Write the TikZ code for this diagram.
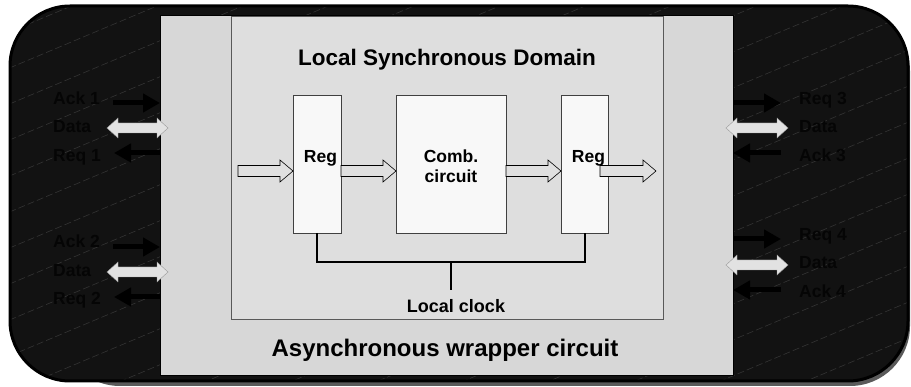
\documentclass[tikz,border=0pt]{standalone}
\usepackage{fontspec}
\setmainfont{Liberation Sans}
\usetikzlibrary{arrows.meta,calc}

\definecolor{panel}{HTML}{121212}
\definecolor{hatchgray}{HTML}{343434}
\definecolor{shadowgray}{HTML}{5A5A5A}
\definecolor{wrapgray}{HTML}{D7D7D7}
\definecolor{domaingray}{HTML}{DEDEDE}
\definecolor{regfill}{HTML}{F8F8F8}
\definecolor{busfill}{HTML}{E2E2E2}
\definecolor{flowfill}{HTML}{E0E0E0}
\definecolor{sigtext}{HTML}{050505}

\tikzset{
  hatch/.style={draw=hatchgray, line width=0.6pt, dash pattern=on 7pt off 3pt},
  wrapbox/.style={draw=black, line width=1pt, fill=wrapgray, inner sep=0pt, outer sep=0pt},
  domainbox/.style={draw=black!65, line width=0.8pt, fill=domaingray, inner sep=0pt, outer sep=0pt},
  regbox/.style={draw=black!75, line width=0.7pt, fill=regfill, inner sep=0pt, outer sep=0pt},
  boxtext/.style={font=\bfseries\fontsize{17.5}{20}\selectfont, inner sep=0pt, align=center},
  sig/.style={font=\bfseries\fontsize{17.5}{20}\selectfont, text=sigtext, inner sep=0pt},
  sigarrow/.style={line width=5pt, draw=black, -{Triangle[length=17pt,width=18pt]}},
  busarrow/.style={fill=busfill, draw=black!40, line width=0.4pt},
  flowarrow/.style={fill=flowfill, draw=black, line width=0.6pt},
  clk/.style={draw=black, line width=2pt},
}

% hollow block arrow from #1 (tail) to #2 (tip), both at the same height
\newcommand\flowarrow[2]{%
  \draw[flowarrow] let \p1=(#1), \p2=(#2) in
    (\x1,\y1+5.5pt) -- (\x2-13pt,\y1+5.5pt) -- (\x2-13pt,\y1+11pt) -- (\x2,\y1)
    -- (\x2-13pt,\y1-11pt) -- (\x2-13pt,\y1-5.5pt) -- (\x1,\y1-5.5pt) -- cycle;}

% two-headed data bus arrow between tips #1 (left) and #2 (right)
\newcommand\busarrow[2]{%
  \draw[busarrow] let \p1=(#1), \p2=(#2) in
    (\x1,\y1) -- (\x1+11pt,\y1+10pt) -- (\x1+11pt,\y1+5pt) -- (\x2-11pt,\y1+5pt)
    -- (\x2-11pt,\y1+10pt) -- (\x2,\y1) -- (\x2-11pt,\y1-10pt) -- (\x2-11pt,\y1-5pt)
    -- (\x1+11pt,\y1-5pt) -- (\x1+11pt,\y1-10pt) -- cycle;}

\begin{document}
\begin{tikzpicture}[x=1pt,y=-1pt]
\useasboundingbox (0,0) rectangle (911,387);

% dark rounded panel with its drop shadow and faint hatching
\fill[shadowgray, rounded corners=60pt] (60,11) rectangle (910,386);
\fill[panel, rounded corners=60pt] (10,6) rectangle (908,381);
\begin{scope}
  \clip[rounded corners=60pt] (10,6) rectangle (908,381);
  \foreach \k in {0,...,22}
    \draw[hatch] (0,{\k*36}) -- (911,{\k*36-383});
\end{scope}
\draw[black, line width=3pt, rounded corners=60pt] (10,6) rectangle (908,381);

% wrapper and synchronous domain
\node[wrapbox, anchor=north west, minimum width=573pt, minimum height=360pt] (wrap) at (160,16) {};
\node[domainbox, anchor=north west, minimum width=432pt, minimum height=303pt] (dom) at (231,16) {};

\node[font=\bfseries\fontsize{22.5}{26}\selectfont, inner sep=0pt, anchor=base] (domtitle) at (447,66) {Local Synchronous Domain};
\node[font=\bfseries\fontsize{24}{28}\selectfont, inner sep=0pt, anchor=base] (wraptitle) at (445,357) {Asynchronous wrapper circuit};

% registers and combinational logic
\node[regbox, anchor=north west, minimum width=48pt, minimum height=138pt] (reg1) at (293,95) {};
\node[regbox, anchor=north west, minimum width=110pt, minimum height=138pt] (comb) at (396,95) {};
\node[regbox, anchor=north west, minimum width=47pt, minimum height=138pt] (reg2) at (561,95) {};

\node[boxtext, anchor=base] (reg1txt) at (320.5,163) {Reg};
\node[boxtext, anchor=base] (combtxt) at (451,183) {Comb.\\circuit};
\node[boxtext, anchor=base] (reg2txt) at (588.5,163) {Reg};

% data flow through the pipeline
\coordinate (inflow) at (238,171);
\coordinate (outflow) at (656,171);
\flowarrow{inflow}{inflow -| reg1.west}
\flowarrow{$(reg1.east)+(0,7)$}{$(comb.west)+(0,7)$}
\flowarrow{$(comb.east)+(0,7)$}{$(reg2.west)+(0,7)$}
\flowarrow{$(reg2.west)+(39,7)$}{outflow}

% local clock distribution
\node[font=\bfseries\fontsize{18}{21}\selectfont, inner sep=0pt, anchor=base] (lclk) at (456,313) {Local clock};
\coordinate (tap) at (451,262);
\draw[clk] (reg1.south) |- (tap) -| (reg2.south);
\draw[clk, shorten >=10pt] (tap) -- (tap |- lclk.north);

% left handshake ports
\node[sig, anchor=base west] (ack1) at (53,105) {Ack 1};
\node[sig, anchor=base west] (data1) at (53,133) {Data};
\node[sig, anchor=base west] (req1) at (53,162) {Req 1};
\node[sig, anchor=base west] (ack2) at (53,248) {Ack 2};
\node[sig, anchor=base west] (data2) at (53,277) {Data};
\node[sig, anchor=base west] (req2) at (53,305) {Req 2};

\coordinate (ack1t) at (113,103);
\coordinate (req1t) at (114,153);
\coordinate (ack2t) at (113,247);
\coordinate (req2t) at (114,297);
\coordinate (bus1l) at (107,128);
\coordinate (bus1r) at (168,128);
\coordinate (bus2l) at (107,272);
\coordinate (bus2r) at (168,272);

\draw[sigarrow] (ack1t) -- (ack1t -| wrap.west);
\draw[sigarrow] (req1t -| wrap.west) -- (req1t);
\draw[sigarrow] (ack2t) -- (ack2t -| wrap.west);
\draw[sigarrow] (req2t -| wrap.west) -- (req2t);
\busarrow{bus1l}{bus1r}
\busarrow{bus2l}{bus2r}

% right handshake ports
\node[sig, anchor=base west] (req3) at (799,105) {Req 3};
\node[sig, anchor=base west] (data3) at (799,133) {Data};
\node[sig, anchor=base west] (ack3) at (799,162) {Ack 3};
\node[sig, anchor=base west] (req4) at (799,241) {Req 4};
\node[sig, anchor=base west] (data4) at (799,269) {Data};
\node[sig, anchor=base west] (ack4) at (799,298) {Ack 4};

\coordinate (req3t) at (781,103);
\coordinate (ack3t) at (781,153);
\coordinate (req4t) at (781,239);
\coordinate (ack4t) at (781,290);
\coordinate (bus3l) at (726,128);
\coordinate (bus3r) at (788,128);
\coordinate (bus4l) at (726,265);
\coordinate (bus4r) at (788,265);

\draw[sigarrow] (req3t -| wrap.east) -- (req3t);
\draw[sigarrow] (ack3t) -- (ack3t -| wrap.east);
\draw[sigarrow] (req4t -| wrap.east) -- (req4t);
\draw[sigarrow] (ack4t) -- (ack4t -| wrap.east);
\busarrow{bus3l}{bus3r}
\busarrow{bus4l}{bus4r}
\end{tikzpicture}
\end{document}
